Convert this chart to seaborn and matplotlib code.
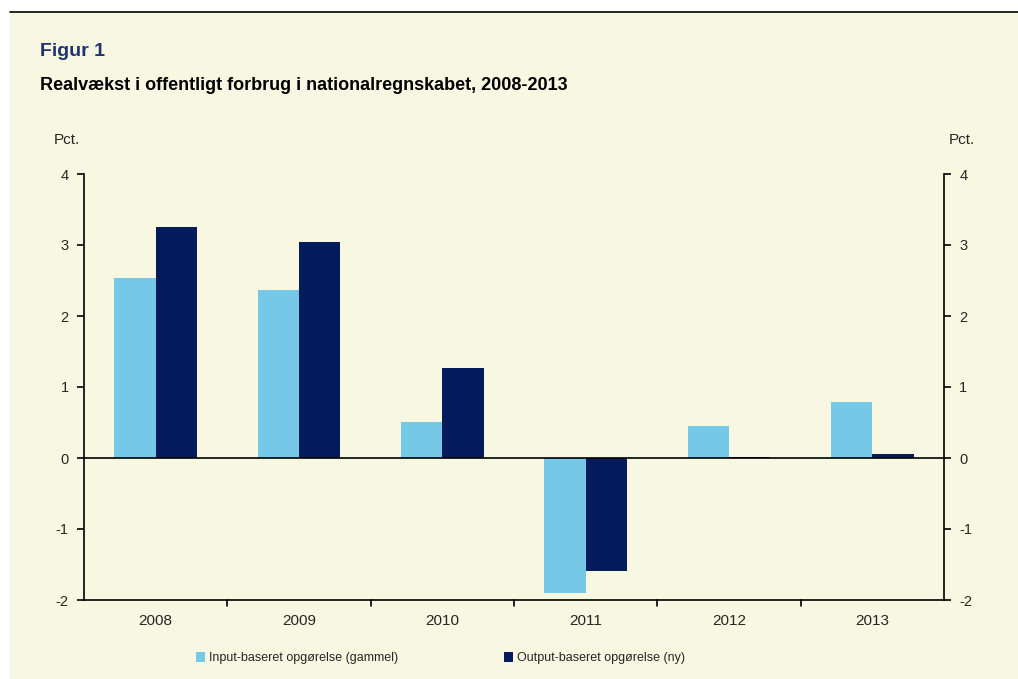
import numpy as np
import pandas as pd
import matplotlib.pyplot as plt
import seaborn as sns
from matplotlib.patches import Rectangle, Patch
from matplotlib.lines import Line2D

# =========================
# data
# =========================
years = ["2008", "2009", "2010", "2011", "2012", "2013"]
input_vals = [2.54, 2.37, 0.51, -1.90, 0.45, 0.79]
output_vals = [3.25, 3.04, 1.27, -1.59, 0.01, 0.06]
series_names = ["Input-baseret opgørelse (gammel)", "Output-baseret opgørelse (ny)"]
yticks = [-2, -1, 0, 1, 2, 3, 4]

colors = ["#75C8E6", "#041C5C"]
bg = "#F8F7E1"

df = pd.DataFrame({
    "year": years * 2,
    "value": input_vals + output_vals,
    "serie": [series_names[0]] * len(years) + [series_names[1]] * len(years),
})

# =========================
# figure
# =========================
sns.set_style("white")
plt.rcParams["font.family"] = ["Liberation Sans", "DejaVu Sans"]

fig = plt.figure(figsize=(10.18, 6.79), dpi=100)
fig.patch.set_facecolor("white")
fig.patches.append(Rectangle((10 / 1018, 0), 1 - 10 / 1018, 1 - 13 / 679,
                             transform=fig.transFigure, facecolor=bg, edgecolor="none", zorder=-5))
fig.lines.append(Line2D([10 / 1018, 1], [1 - 12 / 679, 1 - 12 / 679],
                        transform=fig.transFigure, color="black", lw=1.2, zorder=-4))

ax = fig.add_axes([84 / 1018, 1 - 600 / 679, (944 - 84) / 1018, (600 - 174) / 679])
ax.set_facecolor(bg)

sns.barplot(data=df, x="year", y="value", hue="serie", palette=colors,
            width=0.575, ax=ax, saturation=1, linewidth=0, legend=False)

ax.set_ylim(-2, 4)
ax.set_xlim(-0.5, len(years) - 0.5)
ax.set_yticks(yticks)
ax.set_yticklabels([str(t) for t in yticks], fontsize=10.5)
ax.axhline(0, color="black", lw=1.2, zorder=5)

# x ticks at category boundaries, labels centred
ax.set_xticks(np.arange(len(years)))
ax.set_xticklabels(years, fontsize=11)
ax.tick_params(axis="x", length=0, pad=10)
for b in np.arange(0.5, len(years) - 0.5, 1.0):
    ax.plot([b, b], [0, -0.014], transform=ax.get_xaxis_transform(), color="black",
            lw=1.2, clip_on=False)
ax.set_xlabel("")
ax.set_ylabel("")

ax.spines["top"].set_visible(False)
for s in ["left", "right", "bottom"]:
    ax.spines[s].set_visible(True)
    ax.spines[s].set_color("black")
    ax.spines[s].set_linewidth(1.2)
ax.tick_params(axis="y", direction="out", length=5, width=1.2, color="black",
               left=True, right=True, labelleft=True, labelright=True, pad=6)

# titles and units
fig.text(40 / 1018, 1 - 52 / 679, "Figur 1", fontsize=14, fontweight="bold",
         color="#1F3370", va="center", ha="left")
fig.text(40 / 1018, 1 - 85 / 679, "Realvækst i offentligt forbrug i nationalregnskabet, 2008-2013",
         fontsize=13, fontweight="bold", color="black", va="center", ha="left")
fig.text(54 / 1018, 1 - 140 / 679, "Pct.", fontsize=11, va="center", ha="left")
fig.text(949 / 1018, 1 - 140 / 679, "Pct.", fontsize=11, va="center", ha="left")

# legend
handles = [Patch(facecolor=c, edgecolor="none") for c in colors]
fig.legend(handles, series_names, loc="center left", bbox_to_anchor=(185 / 1018, 1 - 658 / 679),
           ncol=2, frameon=False, handlelength=0.7, handleheight=0.8,
           handletextpad=0.3, columnspacing=8.5, fontsize=9)

plt.savefig("out.png", dpi=100, facecolor=fig.get_facecolor())
